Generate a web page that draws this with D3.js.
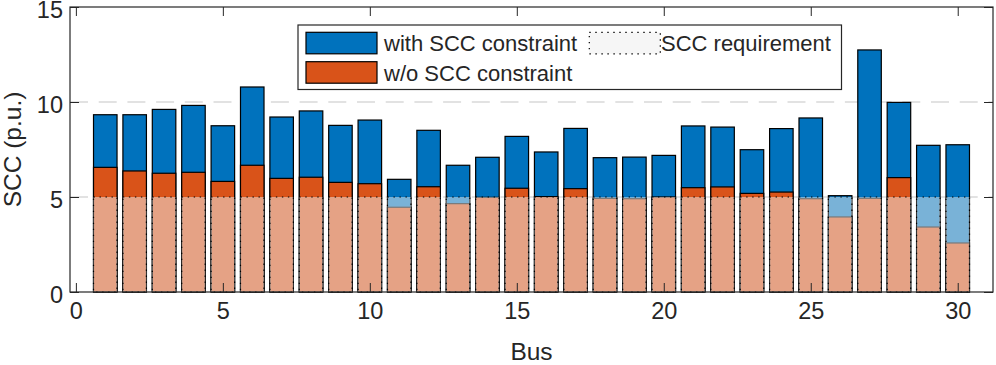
<!DOCTYPE html>
<html>
<head>
<meta charset="utf-8">
<script src="https://cdn.jsdelivr.net/npm/d3@7"></script>
<style>
  body { margin: 0; background: #fff; }
  text { font-family: "Liberation Sans", Arial, Helvetica, sans-serif; fill: #262626; }
</style>
</head>
<body>
<div id="scc_bar"></div>
<script>
// data
var buses = d3.range(1, 31);
var withScc = [9.33, 9.33, 9.61, 9.82, 8.75, 10.79, 9.21, 9.53, 8.77, 9.05,
               5.93, 8.51, 6.67, 7.09, 8.19, 7.37, 8.61, 7.07, 7.10, 7.19,
               8.74, 8.68, 7.49, 8.60, 9.16, 5.07, 12.74, 9.98, 7.72, 7.75];
var withoutScc = [6.56, 6.37, 6.25, 6.30, 5.82, 6.67, 5.98, 6.04, 5.77, 5.70,
                  4.46, 5.54, 4.65, 4.98, 5.46, 5.02, 5.44, 4.93, 4.91, 5.00,
                  5.49, 5.53, 5.19, 5.26, 4.91, 3.95, 4.93, 6.02, 3.42, 2.58];
var requirement = buses.map(function() { return 5; });
var xTicks = [0, 5, 10, 15, 20, 25, 30];
var yTicks = [0, 5, 10, 15];
var refLines = [5, 10];
var legendItems = [
    {label: 'with SCC constraint', key: 'with'},
    {label: 'w/o SCC constraint', key: 'without'},
    {label: 'SCC requirement', key: 'req'}
];

//set margin and sizes
var margin = {top: 7, bottom: 73, right: 3, left: 70};
var w = 996 - margin.left - margin.right;
var h = 365 - margin.top - margin.bottom;

var blue = '#0072BD';
var orange = '#D95319';
var axisCol = '#262626';

//append svg
var svg = d3.select('#scc_bar')
    .append('svg')
    .attr('width', w + margin.left + margin.right)
    .attr('height', h + margin.top + margin.bottom)
    .append('g')
    .attr('transform', 'translate(' + margin.left + ',' + margin.top + ')');

//scales
var x = d3.scaleLinear().domain([-0.2, 31.2]).range([0, w]);
var y = d3.scaleLinear().domain([0, 15]).range([h, 0]);
var barW = x(0.8) - x(0);

//dashed reference lines (behind bars)
svg.selectAll('.refline')
    .data(refLines)
    .enter()
    .append('line')
        .attr('class', 'refline')
        .attr('x1', 0)
        .attr('x2', w)
        .attr('y1', function(d) { return y(d); })
        .attr('y2', function(d) { return y(d); })
        .attr('stroke', '#d9d9d9')
        .attr('stroke-width', 1.5)
        .attr('stroke-dasharray', '18,10.7');

// bars with scc constraint
svg.selectAll('.withBar')
    .data(buses)
    .enter()
    .append('rect')
        .attr('class', 'withBar')
        .attr('x', function(d, i) { return x(d) - barW / 2; })
        .attr('width', barW)
        .attr('y', function(d, i) { return y(withScc[i]); })
        .attr('height', function(d, i) { return h - y(withScc[i]); })
        .attr('fill', blue)
        .attr('stroke', '#000')
        .attr('stroke-width', 1.2);

// bars without scc constraint
svg.selectAll('.woBar')
    .data(buses)
    .enter()
    .append('rect')
        .attr('class', 'woBar')
        .attr('x', function(d, i) { return x(d) - barW / 2; })
        .attr('width', barW)
        .attr('y', function(d, i) { return y(withoutScc[i]); })
        .attr('height', function(d, i) { return h - y(withoutScc[i]); })
        .attr('fill', orange)
        .attr('stroke', '#000')
        .attr('stroke-width', 1.2);

// transparent requirement bars on top
svg.selectAll('.reqBar')
    .data(buses)
    .enter()
    .append('rect')
        .attr('class', 'reqBar')
        .attr('x', function(d, i) { return x(d) - barW / 2; })
        .attr('width', barW)
        .attr('y', function(d, i) { return y(requirement[i]); })
        .attr('height', function(d, i) { return h - y(requirement[i]); })
        .attr('fill', '#f2f2f2')
        .attr('fill-opacity', 0.5)
        .attr('stroke', '#000')
        .attr('stroke-width', 1.2)
        .attr('stroke-dasharray', '1.4,4.6');

//axes (ticks inside, box on)
var xBottom = svg.append('g')
    .attr('transform', 'translate(0,' + h + ')')
    .call(d3.axisBottom(x).tickValues(xTicks).tickSizeInner(-9).tickSizeOuter(0).tickPadding(10));
var xTop = svg.append('g')
    .call(d3.axisTop(x).tickValues(xTicks).tickSizeInner(-9).tickSizeOuter(0).tickFormat(''));
var yLeft = svg.append('g')
    .call(d3.axisLeft(y).tickValues(yTicks).tickSizeInner(-9).tickSizeOuter(0).tickPadding(7));
var yRight = svg.append('g')
    .attr('transform', 'translate(' + w + ',0)')
    .call(d3.axisRight(y).tickValues(yTicks).tickSizeInner(-9).tickSizeOuter(0).tickFormat(''));

[xBottom, xTop, yLeft, yRight].forEach(function(g) {
    g.select('.domain').remove();
    g.selectAll('line').attr('stroke', axisCol).attr('stroke-width', 1);
    g.selectAll('text')
        .style('font-family', '"Liberation Sans", Arial, sans-serif')
        .style('font-size', '23.5px')
        .attr('fill', axisCol);
});
// matlab puts y labels a touch below the tick
yLeft.selectAll('text').attr('dy', '0.45em');

svg.append('rect')
    .attr('width', w)
    .attr('height', h)
    .attr('fill', 'none')
    .attr('stroke', axisCol)
    .attr('stroke-width', 1.2);

//axis labels
svg.append('text')
    .attr('x', w / 2)
    .attr('y', h + 68)
    .attr('text-anchor', 'middle')
    .style('font-size', '24.5px')
    .text('Bus');

svg.append('text')
    .attr('transform', 'translate(' + (20.5 - margin.left) + ',' + (h / 2) + ')rotate(-90)')
    .attr('text-anchor', 'middle')
    .style('font-size', '24.5px')
    .text('SCC (p.u.)');

//legend
var legend = svg.append('g')
    .attr('transform', 'translate(' + (298 - margin.left) + ',' + (25 - margin.top) + ')');

legend.append('rect')
    .attr('width', 543.5)
    .attr('height', 64.5)
    .attr('fill', '#fff')
    .attr('stroke', axisCol)
    .attr('stroke-width', 1.2);

var legPos = {
    'with': {px: 8, py: 7.3, tx: 86},
    'without': {px: 8, py: 36.7, tx: 86},
    'req': {px: 291.3, py: 7.3, tx: 363}
};

legendItems.forEach(function(d) {
    var p = legPos[d.key];
    var sw = legend.append('rect')
        .attr('x', p.px)
        .attr('y', p.py)
        .attr('width', 71)
        .attr('height', 21.5)
        .attr('stroke', '#000')
        .attr('stroke-width', 1.2);
    if (d.key === 'with') sw.attr('fill', blue);
    else if (d.key === 'without') sw.attr('fill', orange);
    else sw.attr('fill', '#f2f2f2').attr('fill-opacity', 0.7).attr('stroke-dasharray', '1.4,4.6');
    legend.append('text')
        .attr('x', p.tx)
        .attr('y', p.py + 19)
        .style('font-size', '22px')
        .text(d.label);
});
</script>
</body>
</html>
